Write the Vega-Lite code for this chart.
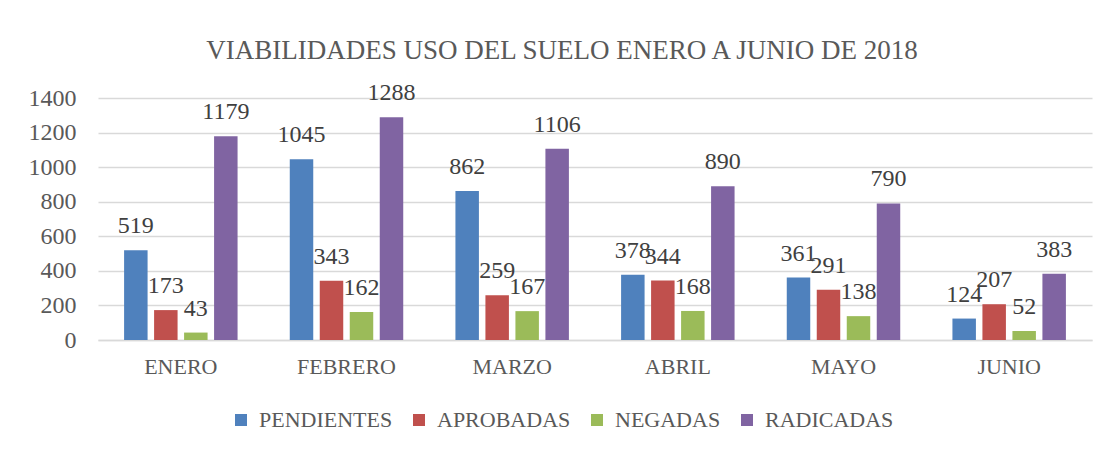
{
  "$schema": "https://vega.github.io/schema/vega-lite/v6.json",
  "width": 994,
  "height": 242,
  "autosize": {"type": "none"},
  "padding": {"left": 98, "top": 98, "right": 14, "bottom": 111},
  "background": "white",
  "config": {"view": {"stroke": null}, "font": "Liberation Serif"},
  "title": {
    "text": "VIABILIDADES USO DEL SUELO ENERO A JUNIO DE 2018",
    "fontSize": 27,
    "font": "Liberation Serif",
    "fontWeight": "normal",
    "color": "#595959",
    "anchor": "middle",
    "baseline": "alphabetic",
    "offset": -5,
    "dx": -33
  },
  "data": {
    "values": [
      {"mes": "ENERO", "serie": "PENDIENTES", "valor": 519},
      {"mes": "ENERO", "serie": "APROBADAS", "valor": 173},
      {"mes": "ENERO", "serie": "NEGADAS", "valor": 43},
      {"mes": "ENERO", "serie": "RADICADAS", "valor": 1179},
      {"mes": "FEBRERO", "serie": "PENDIENTES", "valor": 1045},
      {"mes": "FEBRERO", "serie": "APROBADAS", "valor": 343},
      {"mes": "FEBRERO", "serie": "NEGADAS", "valor": 162},
      {"mes": "FEBRERO", "serie": "RADICADAS", "valor": 1288},
      {"mes": "MARZO", "serie": "PENDIENTES", "valor": 862},
      {"mes": "MARZO", "serie": "APROBADAS", "valor": 259},
      {"mes": "MARZO", "serie": "NEGADAS", "valor": 167},
      {"mes": "MARZO", "serie": "RADICADAS", "valor": 1106},
      {"mes": "ABRIL", "serie": "PENDIENTES", "valor": 378},
      {"mes": "ABRIL", "serie": "APROBADAS", "valor": 344},
      {"mes": "ABRIL", "serie": "NEGADAS", "valor": 168},
      {"mes": "ABRIL", "serie": "RADICADAS", "valor": 890},
      {"mes": "MAYO", "serie": "PENDIENTES", "valor": 361},
      {"mes": "MAYO", "serie": "APROBADAS", "valor": 291},
      {"mes": "MAYO", "serie": "NEGADAS", "valor": 138},
      {"mes": "MAYO", "serie": "RADICADAS", "valor": 790},
      {"mes": "JUNIO", "serie": "PENDIENTES", "valor": 124},
      {"mes": "JUNIO", "serie": "APROBADAS", "valor": 207},
      {"mes": "JUNIO", "serie": "NEGADAS", "valor": 52},
      {"mes": "JUNIO", "serie": "RADICADAS", "valor": 383}
    ]
  },
  "encoding": {
    "x": {
      "field": "mes",
      "type": "nominal",
      "sort": ["ENERO", "FEBRERO", "MARZO", "ABRIL", "MAYO", "JUNIO"],
      "scale": {"paddingInner": 0, "paddingOuter": 0},
      "axis": {
        "title": null,
        "labelAngle": 0,
        "labelFont": "Liberation Serif",
        "labelFontSize": 22,
        "labelColor": "#595959",
        "labelPadding": 16,
        "ticks": false,
        "domainColor": "#d9d9d9",
        "domainWidth": 1.5,
        "grid": false
      }
    },
    "xOffset": {
      "field": "serie",
      "type": "nominal",
      "sort": ["PENDIENTES", "APROBADAS", "NEGADAS", "RADICADAS"],
      "scale": {"paddingInner": 0.217, "paddingOuter": 0.87}
    },
    "y": {
      "field": "valor",
      "type": "quantitative",
      "scale": {"domain": [0, 1400]},
      "axis": {
        "title": null,
        "values": [0, 200, 400, 600, 800, 1000, 1200, 1400],
        "format": "d",
        "labelFont": "Liberation Serif",
        "labelFontSize": 24,
        "labelColor": "#595959",
        "labelPadding": 22,
        "ticks": false,
        "domain": false,
        "gridColor": "#d9d9d9",
        "gridWidth": 1.5
      }
    }
  },
  "layer": [
    {
      "mark": {"type": "bar"},
      "encoding": {
        "color": {
          "field": "serie",
          "type": "nominal",
          "sort": ["PENDIENTES", "APROBADAS", "NEGADAS", "RADICADAS"],
          "scale": {
            "domain": ["PENDIENTES", "APROBADAS", "NEGADAS", "RADICADAS"],
            "range": ["#4f81bd", "#c0504d", "#9bbb59", "#8064a2"]
          },
          "legend": {
            "title": null,
            "orient": "none",
            "direction": "horizontal",
            "legendX": 132,
            "legendY": 311,
            "symbolType": "square",
            "symbolSize": 144,
            "symbolStrokeWidth": 0,
            "labelFont": "Liberation Serif",
            "labelFontSize": 22,
            "labelColor": "#595959",
            "labelOffset": 7,
            "columnPadding": 15
          }
        }
      }
    },
    {
      "mark": {
        "type": "text",
        "baseline": "alphabetic",
        "dy": -17,
        "font": "Liberation Serif",
        "fontSize": 24,
        "color": "#404040"
      },
      "encoding": {
        "text": {"field": "valor", "type": "quantitative"}
      }
    }
  ]
}
